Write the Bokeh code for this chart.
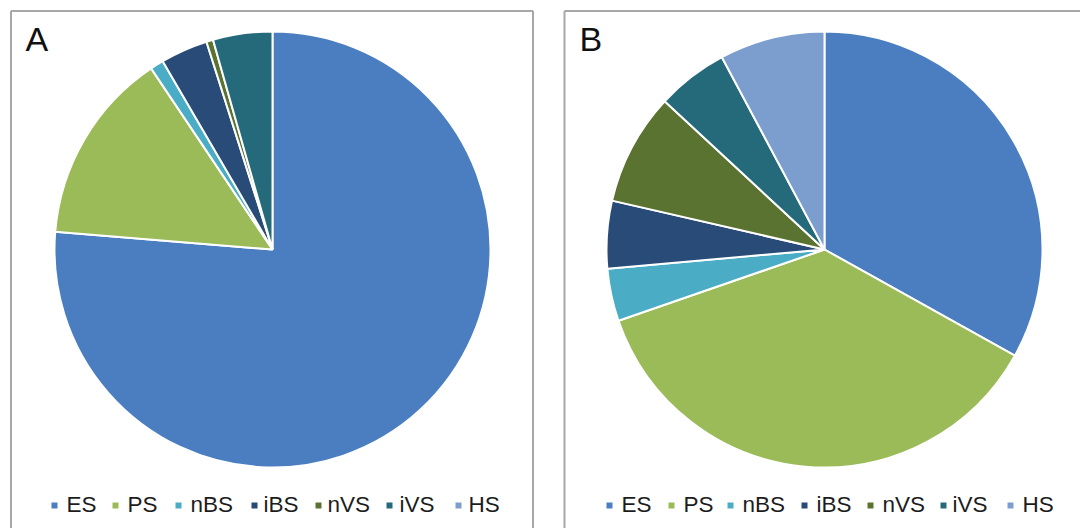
import numpy as np
from bokeh.plotting import figure
from bokeh.models import Range1d
from bokeh.core.properties import value
from bokeh.embed import file_html
from bokeh.resources import INLINE

# ---- data ----
categories = ["ES", "PS", "nBS", "iBS", "nVS", "iVS", "HS"]
colors = ["#4A7EC0", "#9BBB59", "#4BACC6", "#294B77", "#5A7330", "#246A7A", "#7C9ECE"]
values_a = [76.3, 14.3, 1.0, 3.5, 0.5, 4.4, 0.0]
values_b = [33.1, 36.6, 3.9, 5.0, 8.3, 5.3, 7.8]
panel_labels = ["A", "B"]

# ---- layout (screen pixels) ----
W, H = 1080, 528
FONT = "Liberation Sans"


def sy(y):
    # screen y -> data y
    return H - y


p = figure(width=W, height=H, output_backend="svg", toolbar_location=None,
           x_range=Range1d(0, W), y_range=Range1d(0, H), min_border=0)
p.axis.visible = False
p.grid.visible = False
p.outline_line_color = None
p.background_fill_color = "white"

# panel borders
border = "#A8A8A8"
p.segment(x0=[10.5, 10.5, 532.5], y0=[sy(10.5), sy(10.5), sy(10.5)],
          x1=[532.5, 10.5, 532.5], y1=[sy(10.5), -20, -20],
          line_color=border, line_width=2)
p.segment(x0=[564, 564], y0=[sy(10.5), sy(10.5)],
          x1=[1100, 564], y1=[sy(10.5), -20],
          line_color=border, line_width=2)

panels = [
    dict(vals=values_a, cx=272, cy=249, r=218, label_x=25,
         leg_sq=[54, 115, 178, 254, 318, 389, 458],
         leg_tx=[66, 127, 190, 263, 327, 399, 468]),
    dict(vals=values_b, cx=824, cy=249, r=218, label_x=579,
         leg_sq=[609, 671, 730, 804, 870, 943, 1010],
         leg_tx=[621, 683, 742, 816, 882, 952, 1022]),
]

for i, pn in enumerate(panels):
    vals = np.array(pn["vals"], dtype=float)
    frac = vals / vals.sum()
    cum = np.concatenate([[0], np.cumsum(frac)])
    start = np.pi / 2 - cum[:-1] * 2 * np.pi
    end = np.pi / 2 - cum[1:] * 2 * np.pi
    keep = vals > 0
    p.wedge(x=[pn["cx"]] * int(keep.sum()), y=[sy(pn["cy"])] * int(keep.sum()),
            radius=pn["r"], radius_units="screen",
            start_angle=list(start[keep]), end_angle=list(end[keep]),
            direction="clock",
            fill_color=[c for c, k in zip(colors, keep) if k],
            line_color="white", line_width=2)

    # panel label
    p.text(x=[pn["label_x"]], y=[sy(38.5)], text=[panel_labels[i]],
           text_font=value(FONT), text_font_size="34px", text_color="#111111",
           text_baseline="middle", text_align="left")

    # legend
    p.rect(x=pn["leg_sq"], y=[sy(505)] * len(categories), width=6, height=6,
           width_units="screen", height_units="screen",
           fill_color=colors, line_color=None)
    p.text(x=pn["leg_tx"], y=[sy(504)] * len(categories), text=categories,
           text_font=value(FONT), text_font_size="22.5px", text_color="#1c1c1c",
           text_baseline="middle", text_align="left")

open("out.html", "w").write(file_html(p, INLINE))
